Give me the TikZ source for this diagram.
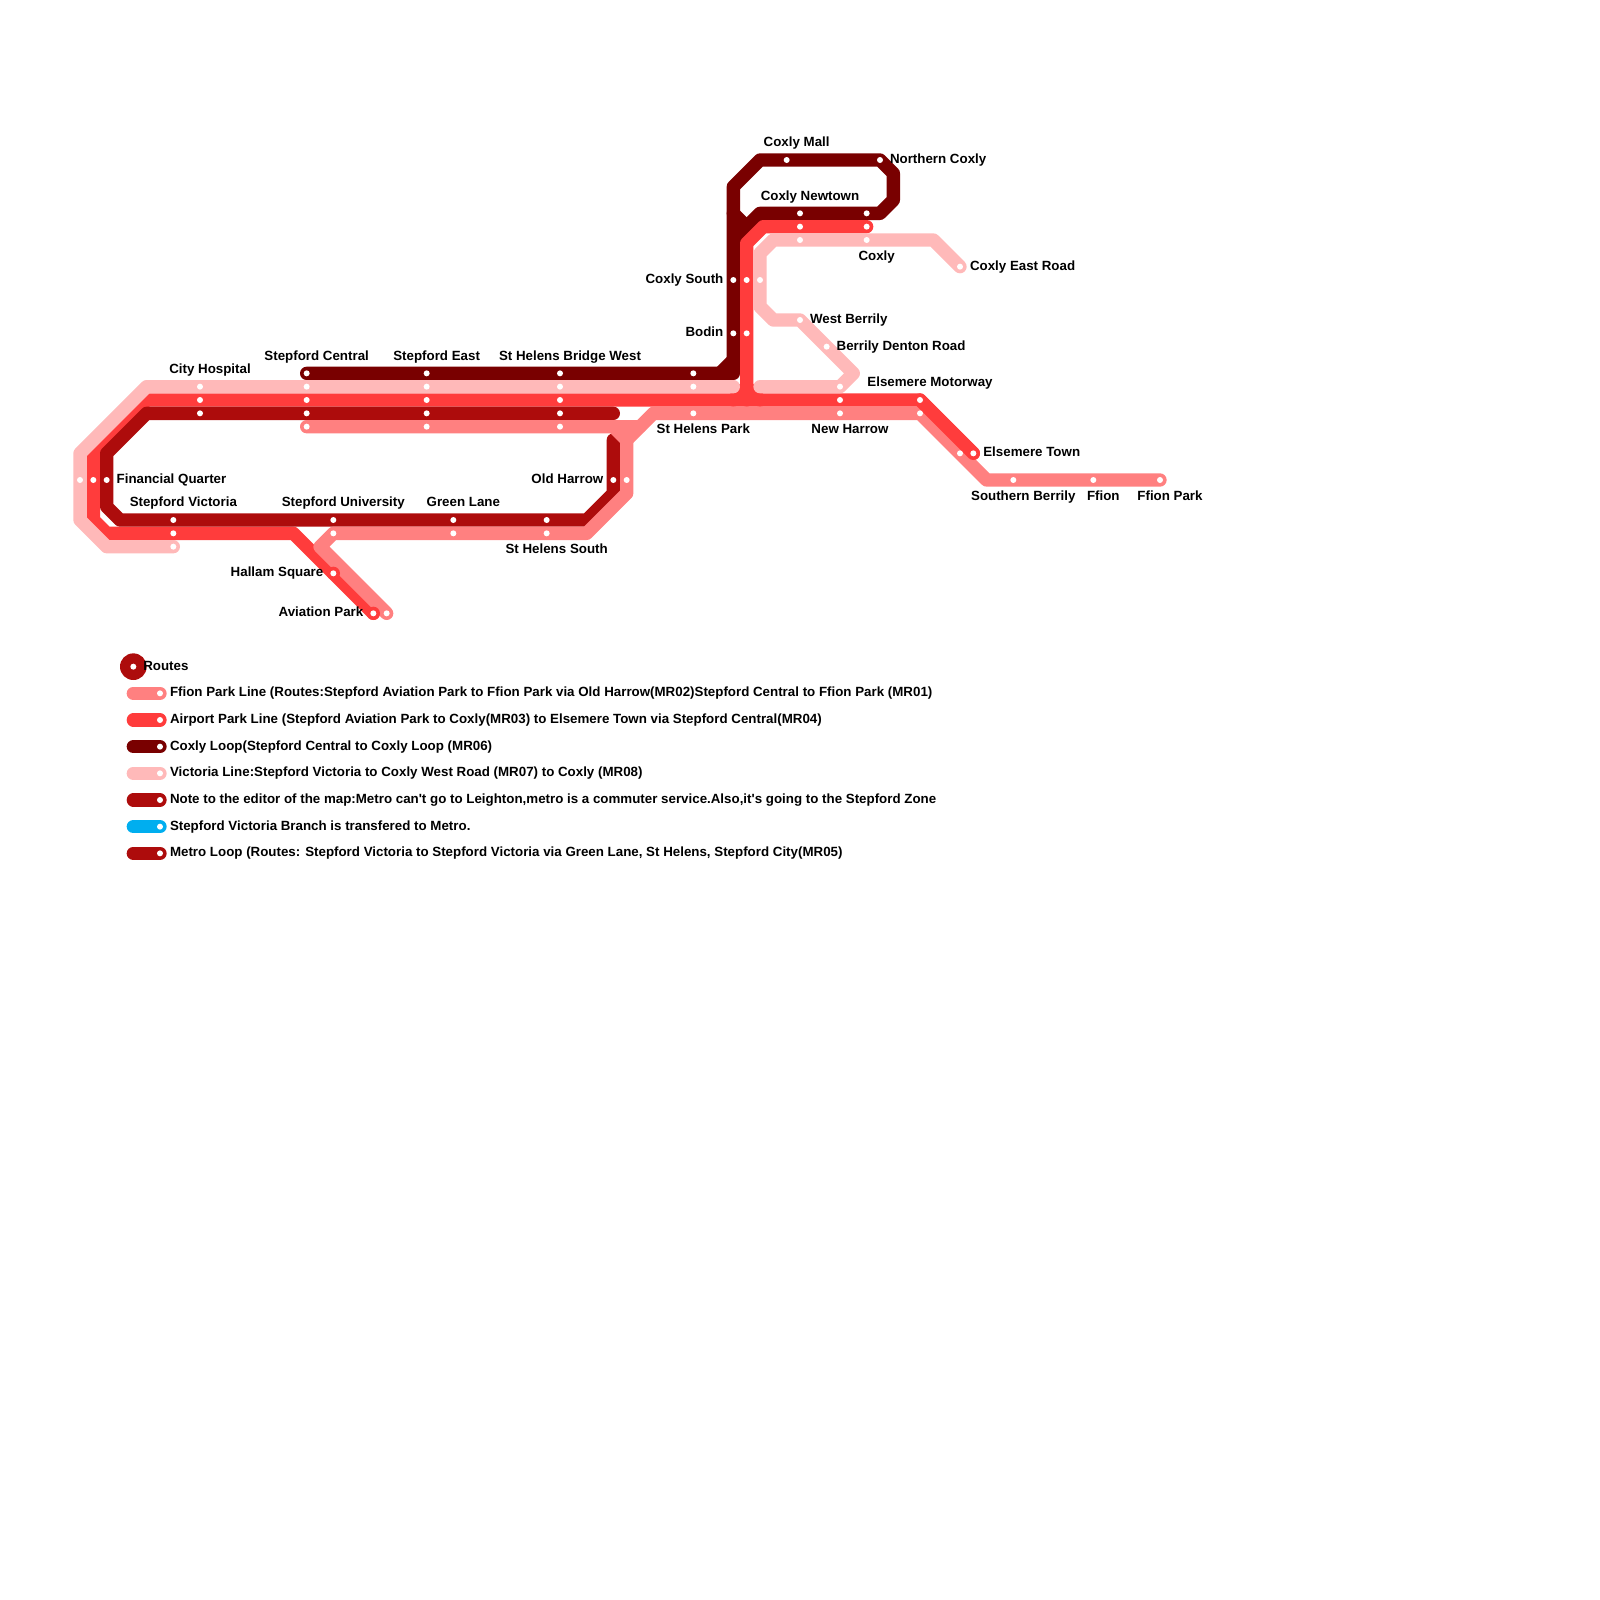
\documentclass[tikz,border=0pt]{standalone}
\usepackage{fontspec}
\newfontfamily\mapfont{Liberation Sans}
\usetikzlibrary{backgrounds}
\definecolor{cSalmon}{HTML}{FF8080}
\definecolor{cRed}{HTML}{FF3C3C}
\definecolor{cMaroon}{HTML}{790000}
\definecolor{cPink}{HTML}{FFB9B9}
\definecolor{cDark}{HTML}{AD0C0C}
\definecolor{cBlue}{HTML}{00AEEF}
\tikzset{
  stn/.style={circle,fill=white,draw=none,minimum size=6pt,inner sep=0pt,outer sep=0pt},
  lab/.style={font=\mapfont\bfseries\fontsize{13.33}{16}\selectfont,inner sep=0pt,outer sep=0pt,text=black},
  labtop/.style={lab,anchor=base,xshift=10pt,yshift=13.33pt},
  labbot/.style={lab,anchor=base,xshift=10pt,yshift=-20pt},
  labrgt/.style={lab,anchor=base west,xshift=10pt,yshift=-3.33pt},
  lablft/.style={lab,anchor=base east,xshift=-10pt,yshift=-3.33pt},
  route/.style={line width=13.333pt,line cap=round,line join=round},
}
\begin{document}
\begin{tikzpicture}[x=13.3333pt,y=-13.3333pt]
\useasboundingbox (0,0) rectangle (120,120);
% stations
\foreach \n/\x/\y in {
 mSC/23/28,mSE/32/28,mSB/42/28,mSP/52/28,mCS/55/21,mBo/55/25,mCN/60/16,mCx/65/16,mCM/59/12,mNC/66/12,
 pSV/13/41,pFQ/6/36,pCH/15/29,pSC/23/29,pSE/32/29,pSB/42/29,pSP/52/29,
 pER/72/20,pCx/65/18,pCN/60/18,pCS/57/21,pWB/60/24,pBD/62/26,pEM/63/29,
 rCx/65/17,rCN/60/17,rCS/56/21,rBo/56/25,rAP/28/46,rHS/25/43,rSV/13/40,rFQ/7/36,rCH/15/30,rSC/23/30,rSE/32/30,rSB/42/30,rEM/63/30,rEl/69/30,rET/73/34,
 dOH/46/36,dSS/41/39,dGL/34/39,dSU/25/39,dSV/13/39,dFQ/8/36,dCH/15/31,dSC/23/31,dSE/32/31,dSB/42/31,
 sSC/23/32,sSE/32/32,sSB/42/32,sOH/47/36,sSS/41/40,sGL/34/40,sSU/25/40,sAP/29/46,sSP/52/31,sNH/63/31,sEl/69/31,sET/72/34,sSo/76/36,sFf/82/36,sFP/87/36,
 kR/10/50,k1/12/52,k2/12/54,k3/12/56,k4/12/58,k5/12/60,k6/12/62,k7/12/64}
 {\node[stn] (\n) at (\x,\y) {};}
% legend pill ends
\foreach \n/\y in {a1/52,a2/54,a3/56,a4/58,a5/60,a6/62,a7/64}
 {\coordinate (\n) at (10,\y);}
\begin{scope}[on background layer]
\fill[cDark] (kR.center) circle (13.33pt);
\draw[route,cSalmon] (a1) -- (k1.center);
\draw[route,cRed] (a2) -- (k2.center);
\draw[route,cMaroon] (a3) -- (k3.center);
\draw[route,cPink] (a4) -- (k4.center);
\draw[route,cDark] (a5) -- (k5.center);
\draw[route,cBlue] (a6) -- (k6.center);
\draw[route,cDark] (a7) -- (k7.center);
% Coxly loop
\draw[route,cMaroon] (mSC.center) -- (mSE.center) -- (mSB.center) -- (mSP.center) -- (55,28) -- (mBo.center) -- (mCS.center) -- (55,14) -- (57,12) -- (mCM.center) -- (mNC.center) -- (67,13) -- (67,15) -- (66,16) -- (mCx.center) -- (mCN.center) -- (57,16) -- (55,18);
\draw[route,cMaroon] (54,28) -- (55,27);
\draw[route,cMaroon] (55,16) -- (56,17);
% Airport Park line
\draw[route,cRed] (rCx.center) -- (rCN.center) -- (57.25,17) -- (56,18.25) -- (rCS.center) -- (rBo.center) -- (56,30);
\draw[route,cRed] (55,30) -- (56,29) -- (57,30);
\draw[route,cRed] (rAP.center) -- (rHS.center) -- (22,40) -- (rSV.center) -- (8,40) -- (7,39) -- (rFQ.center) -- (7,34) -- (11,30) -- (rCH.center) -- (rSC.center) -- (rSE.center) -- (rSB.center) -- (rEM.center) -- (rEl.center) -- (rET.center);
% Victoria line
\draw[route,cPink] (pSV.center) -- (8,41) -- (6,39) -- (pFQ.center) -- (6,34) -- (11,29) -- (pCH.center) -- (pSC.center) -- (pSE.center) -- (pSB.center) -- (pSP.center) -- (55,29);
\draw[route,cPink] (pER.center) -- (70,18) -- (pCx.center) -- (pCN.center) -- (58,18) -- (57,19) -- (pCS.center) -- (57,23) -- (58,24) -- (pWB.center) -- (pBD.center) -- (64,28) -- (pEM.center) -- (57,29);
% Metro loop
\draw[route,cDark] (46,33) -- (dOH.center) -- (46,37) -- (44,39) -- (dSS.center) -- (dGL.center) -- (dSU.center) -- (dSV.center) -- (9,39) -- (8,38) -- (dFQ.center) -- (8,34) -- (11,31) -- (dCH.center) -- (dSC.center) -- (dSE.center) -- (dSB.center) -- (46,31);
% Ffion Park line
\draw[route,cSalmon] (sSC.center) -- (sSE.center) -- (sSB.center) -- (46,32) -- (47,33) -- (sOH.center) -- (47,37) -- (44,40) -- (sSS.center) -- (sGL.center) -- (sSU.center) -- (24,41) -- (sAP.center);
\draw[route,cSalmon] (46,32) -- (48,32);
\draw[route,cSalmon] (47,33) -- (49,31) -- (sSP.center) -- (sNH.center) -- (sEl.center) -- (sET.center) -- (74,36) -- (sSo.center) -- (sFf.center) -- (sFP.center);
% Airport Park line over the Ffion Park line
\draw[route,cRed] (rEl.center) -- (rET.center);
\fill[cRed] (rHS.center) circle (6.667pt);
\fill[cRed] (rAP.center) circle (6.667pt);
\end{scope}
% labels above
\node[labtop] (tCH) at (pCH.center) {City Hospital};
\node[labtop] (tSC) at (mSC.center) {Stepford Central};
\node[labtop] (tSE) at (mSE.center) {Stepford East};
\node[labtop] (tSB) at (mSB.center) {St Helens Bridge West};
\node[labtop] (tSV) at (dSV.center) {Stepford Victoria};
\node[labtop] (tSU) at (dSU.center) {Stepford University};
\node[labtop] (tGL) at (dGL.center) {Green Lane};
\node[labtop] (tCM) at (mCM.center) {Coxly Mall};
\node[labtop] (tCN) at (mCN.center) {Coxly Newtown};
\node[labtop] (tEM) at (rEl.center) {Elsemere Motorway};
% labels below
\node[labbot] (tSS) at (sSS.center) {St Helens South};
\node[labbot] (tSP) at (sSP.center) {St Helens Park};
\node[labbot] (tNH) at (sNH.center) {New Harrow};
\node[labbot] (tCx) at (pCx.center) {Coxly};
\node[labbot] (tSo) at (sSo.center) {Southern Berrily};
\node[labbot] (tFf) at (sFf.center) {Ffion};
\node[labbot] (tFP) at (sFP.center) {Ffion Park};
% labels right
\node[labrgt] (tFQ) at (dFQ.center) {Financial Quarter};
\node[labrgt] (tNC) at (mNC.center) {Northern Coxly};
\node[labrgt] (tER) at (pER.center) {Coxly East Road};
\node[labrgt] (tWB) at (pWB.center) {West Berrily};
\node[labrgt] (tBD) at (pBD.center) {Berrily Denton Road};
\node[labrgt] (tET) at (rET.center) {Elsemere Town};
% labels left
\node[lablft] (tCS) at (mCS.center) {Coxly South};
\node[lablft] (tBo) at (mBo.center) {Bodin};
\node[lablft] (tOH) at (dOH.center) {Old Harrow};
\node[lablft] (tHS) at (rHS.center) {Hallam Square};
\node[lablft] (tAP) at (rAP.center) {Aviation Park};
% legend
\node[labrgt] (tR) at (kR.center) {Routes};
\node[labrgt] (t1) at (k1.center) {Ffion Park Line (Routes:Stepford Aviation Park to Ffion Park via Old Harrow(MR02)Stepford Central to Ffion Park (MR01)};
\node[labrgt] (t2) at (k2.center) {Airport Park Line (Stepford Aviation Park to Coxly(MR03) to Elsemere Town via Stepford Central(MR04)};
\node[labrgt] (t3) at (k3.center) {Coxly Loop(Stepford Central to Coxly Loop (MR06)};
\node[labrgt] (t4) at (k4.center) {Victoria Line:Stepford Victoria to Coxly West Road (MR07) to Coxly (MR08)};
\node[labrgt] (t5) at (k5.center) {Note to the editor of the map:Metro can't go to Leighton,metro is a commuter service.Also,it's going to the Stepford Zone};
\node[labrgt] (t6) at (k6.center) {Stepford Victoria Branch is transfered to Metro.};
\node[labrgt] (t7) at (k7.center) {Metro Loop (Routes: Stepford Victoria to Stepford Victoria via Green Lane, St Helens, Stepford City(MR05)};
\end{tikzpicture}
\end{document}
